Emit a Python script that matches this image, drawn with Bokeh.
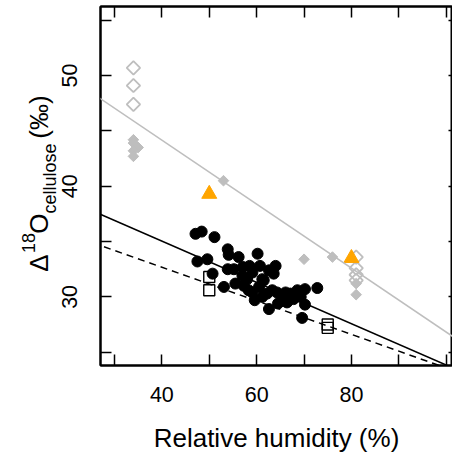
import math
from bokeh.plotting import figure
from bokeh.models import Range1d, LinearAxis, FixedTicker, Slope
from bokeh.embed import file_html
from bokeh.resources import INLINE

# ---------------- data ----------------
rh_circle = [47.1, 48.4, 51.1, 53.9, 54.1, 56.2, 60.2, 47.5, 49.6, 50.7, 53.1, 53.9,
             55.2, 55.5, 57.0, 57.1, 58.5, 59.1, 60.7, 57.3, 59.1, 60.5, 61.5, 62.6,
             64.0, 63.6, 59.6, 61.2, 62.2, 62.6, 64.3, 64.5, 66.1, 66.4, 67.8, 68.6,
             70.2, 70.2, 69.6, 72.8, 61.2, 58.3, 63.3, 65.4, 67.1, 69.3, 58.0]
d18_circle = [35.7, 35.9, 35.4, 34.3, 33.8, 33.6, 33.9, 33.2, 33.4, 32.1, 30.9, 32.5,
              32.5, 31.2, 31.9, 32.7, 32.8, 32.2, 32.8, 31.0, 30.4, 30.9, 31.5, 32.4,
              32.8, 32.1, 29.7, 30.0, 30.3, 28.9, 30.4, 29.4, 30.4, 29.5, 29.8, 30.6,
              30.7, 29.3, 28.1, 30.8, 31.6, 30.6, 30.6, 30.0, 30.3, 30.0, 31.6]

rh_square = [50, 50, 75, 75]
d18_square = [31.8, 30.6, 27.5, 27.2]

rh_triangle = [50, 80]
d18_triangle = [39.3, 33.5]

rh_diamond_open = [34, 34, 34, 81, 81, 81, 81]
d18_diamond_open = [50.7, 49.1, 47.4, 33.6, 32.6, 32.0, 31.5]

rh_diamond_fill = [34, 34, 35, 34, 34, 53, 70, 76, 81, 81]
d18_diamond_fill = [44.2, 43.9, 43.5, 43.2, 42.7, 40.5, 33.4, 33.6, 31.2, 30.2]

fit_intercept = [55.72, 42.51, 38.74]
fit_slope = [-0.289, -0.1867, -0.1516]
fit_color = ["#BEBEBE", "black", "black"]
fit_dash = ["solid", "solid", "7 5"]

x_ticks = [30, 40, 50, 60, 70, 80, 90, 100]
x_tick_labels = {40: "40", 60: "60", 80: "80"}
y_ticks = [25, 30, 35, 40, 45, 50, 55]
y_tick_labels = {30: "30", 40: "40", 50: "50"}

x_title = "Relative humidity (%)"
y_title_parts = ["\u0394", "18", "O", "cellulose", "(\u2030)"]

# ---------------- figure ----------------
FONT = "Liberation Sans"
GRAY = "#BEBEBE"

X0, X1 = 27.05, 101.33
Y0, Y1 = 23.80, 56.24
FRAME_L, FRAME_R, FRAME_T, FRAME_B = 100, 452, 6, 365
W, H = 452, 460

p = figure(width=W, height=H,
           x_range=Range1d(X0, X1), y_range=Range1d(Y0, Y1),
           output_backend="svg", toolbar_location=None,
           min_border_left=FRAME_L, min_border_right=W - FRAME_R,
           min_border_top=FRAME_T, min_border_bottom=H - FRAME_B)
p.xgrid.visible = False
p.ygrid.visible = False
p.outline_line_color = "black"
p.outline_line_width = 2
p.background_fill_color = "white"
p.border_fill_color = "white"


def style_axis(ax, ticks, labels, tick_in=11, show_labels=True):
    ax.ticker = FixedTicker(ticks=ticks)
    ax.major_tick_in = tick_in
    ax.major_tick_out = 0
    ax.minor_tick_in = 0
    ax.minor_tick_out = 0
    ax.major_tick_line_width = 1.5
    ax.major_tick_line_color = "black"
    ax.axis_line_width = 2
    ax.axis_line_color = "black"
    if show_labels:
        ax.major_label_overrides = {t: labels.get(t, "") for t in ticks}
        ax.major_label_text_font = FONT
        ax.major_label_text_font_size = "21.5px"
        ax.major_label_text_color = "black"
    else:
        ax.major_label_text_font_size = "0px"
        ax.major_label_standoff = 0


xa = p.xaxis[0]
style_axis(xa, x_ticks, x_tick_labels)
xa.major_label_standoff = 21
xa.axis_label = x_title
xa.axis_label_text_font = FONT
xa.axis_label_text_font_size = "26px"
xa.axis_label_text_font_style = "normal"
xa.axis_label_text_color = "black"
xa.axis_label_standoff = 18

YTICK_STANDOFF = 23
ya = p.yaxis[0]
style_axis(ya, y_ticks, y_tick_labels)
ya.major_label_orientation = "vertical"
ya.major_label_standoff = YTICK_STANDOFF

top = LinearAxis()
style_axis(top, x_ticks, {}, show_labels=False)
p.add_layout(top, "above")
right = LinearAxis()
style_axis(right, y_ticks, {}, tick_in=4, show_labels=False)
p.add_layout(right, "right")

# ---------------- fitted lines ----------------
for b, m, c, d in zip(fit_intercept, fit_slope, fit_color, fit_dash):
    p.add_layout(Slope(gradient=m, y_intercept=b, line_color=c,
                       line_width=1.5, line_dash=d))

# ---------------- points ----------------
p.scatter(rh_diamond_open, d18_diamond_open, marker="square", angle=math.pi / 4,
          size=9.5, fill_color=None, line_color=GRAY, line_width=1.8)
p.scatter(rh_diamond_fill, d18_diamond_fill, marker="square", angle=math.pi / 4,
          size=7.5, fill_color=GRAY, line_color=GRAY, line_width=1)
p.scatter(rh_circle, d18_circle, marker="circle", size=11,
          fill_color="black", line_color="black")
p.scatter(rh_square, d18_square, marker="square", size=11,
          fill_color=None, line_color="black", line_width=1.4)
p.scatter(rh_triangle, d18_triangle, marker="triangle", size=15,
          fill_color="#FFA500", line_color="#FFA500")

# ---------------- y title: pieces drawn as tick labels of extra left axes ----------------
px_per_y = (FRAME_B - FRAME_T) / (Y1 - Y0)
LINE_EM = 1.1      # estimated label extent (line height) in em
DESC_EM = 0.212

F_MAIN = 26
F_SCRIPT = 18
role = {"\u0394": "main", "18": "sup", "O": "main", "cellulose": "sub",
        "(\u2030)": "main"}
centre_y = {"\u0394": 262.5, "18": 242.5, "O": 223.0, "cellulose": 178.0,
            "(\u2030)": 116.5}            # canvas y of each piece's centre
baseline_x = {"main": 46.0, "sup": 33.5, "sub": 50.5}
font_of = {"main": F_MAIN, "sup": F_SCRIPT, "sub": F_SCRIPT}

groups = {"sub": {}, "main": {}, "sup": {}}     # order = stacking outward
for part in y_title_parts:
    centre = round(Y0 + (FRAME_B - centre_y[part]) / px_per_y, 3)
    groups[role[part]][centre] = part

edge = FRAME_L - (YTICK_STANDOFF + LINE_EM * 21.5)   # outer edge of tick-label panel
for r, lab in groups.items():
    fs = font_of[r]
    anchor = baseline_x[r] + DESC_EM * fs
    standoff = int(round(edge - anchor))
    ax = LinearAxis()
    ax.ticker = FixedTicker(ticks=list(lab.keys()))
    ax.major_label_overrides = lab
    ax.major_label_orientation = "vertical"
    ax.major_label_standoff = standoff
    ax.major_label_text_font = FONT
    ax.major_label_text_font_size = f"{fs}px"
    ax.major_label_text_color = "black"
    ax.major_tick_in = 0
    ax.major_tick_out = 0
    ax.minor_tick_in = 0
    ax.minor_tick_out = 0
    ax.major_tick_line_color = None
    ax.minor_tick_line_color = None
    ax.axis_line_color = None
    p.add_layout(ax, "left")
    edge = edge - standoff - LINE_EM * fs

open("out.html", "w").write(file_html(p, INLINE))
